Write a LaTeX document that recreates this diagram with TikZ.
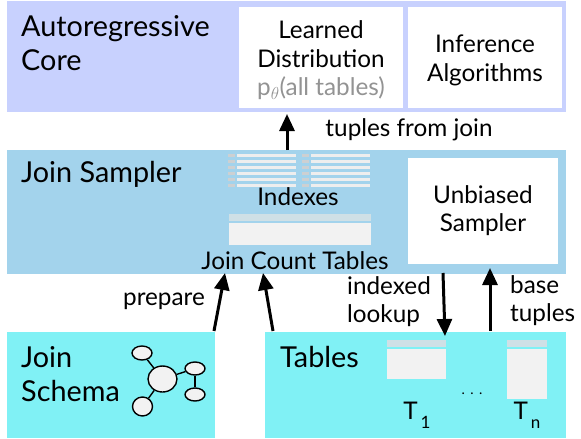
\documentclass[tikz,border=0pt]{standalone}
\usepackage{fontspec}
\setmainfont{Lato}
\usetikzlibrary{arrows.meta,shapes.geometric}
\definecolor{corebg}{RGB}{200,209,254}
\definecolor{joinbg}{RGB}{163,211,236}
\definecolor{cyanbg}{RGB}{128,241,245}
\definecolor{tblhead}{RGB}{207,224,230}
\definecolor{tblbody}{RGB}{242,242,242}
\definecolor{idxgray}{RGB}{205,208,210}
\definecolor{lightline}{RGB}{238,238,238}
\tikzset{
  x=1pt,y=-1pt,
  panel/.style={draw=none,inner sep=0pt,anchor=north west},
  title/.style={font=\fontsize{28.8}{33.5}\selectfont,align=left,anchor=west,inner sep=0pt},
  body/.style={font=\fontsize{24.3}{29}\selectfont,align=center,inner sep=0pt},
  lab/.style={font=\fontsize{24.3}{28}\selectfont,align=left,inner sep=0pt},
  arrow/.style={line width=3pt,-{Triangle[length=17pt,width=15pt]},black},
  gnode/.style={draw=black,line width=1.4pt,fill=tblbody,ellipse,inner sep=0pt},
  gedge/.style={draw=black,line width=1.4pt},
}
\begin{document}
\begin{tikzpicture}
\useasboundingbox (0,0) rectangle (581,439);
% panels
\node[panel,fill=corebg,minimum width=559pt,minimum height=110.5pt] (core) at (7,1) {};
\node[panel,fill=white,minimum width=164pt,minimum height=101pt] (learned) at (239,7) {};
\node[panel,fill=white,minimum width=154pt,minimum height=101pt] (infer) at (408,7) {};
\node[panel,fill=joinbg,minimum width=559pt,minimum height=124pt] (sampler) at (7,150) {};
\node[panel,fill=white,minimum width=150pt,minimum height=106pt] (unb) at (408,158) {};
\node[panel,fill=cyanbg,minimum width=208pt,minimum height=106pt] (schema) at (7,332) {};
\node[panel,fill=cyanbg,minimum width=301pt,minimum height=106pt] (tables) at (265,332) {};
% titles
\node[title] (t1) at (21,43) {Autoregressive\\Core};
\node[title] (t2) at (21,174) {Join Sampler};
\node[title] (t3) at (21,374) {Join\\Schema};
\node[title] (t4) at (280,357) {Tables};
% inner texts
\node[body] (tl) at (321,44) {Learned\\Distribution};
\node[body,text=gray!85] (tp) at (321,88) {p$_{\theta}$(all tables)};
\node[body] (ti) at (485,60) {Inference\\Algorithms};
\node[body,font=\fontsize{24.3}{28}\selectfont] (tu) at (483,211) {Unbiased\\Sampler};
\node[body] (tx) at (298,197) {Indexes};
\node[body] (tc) at (295,261) {Join Count Tables};
% index glyphs
\foreach \y in {154,166,178}{
  \foreach \x in {228,302}{
    \fill[idxgray] (\x,\y) rectangle ++(7,3);
    \fill[idxgray] (\x,\y+6) rectangle ++(7,3);
    \fill[lightline] (\x+9,\y) rectangle ++(59,3);
    \fill[lightline] (\x+9,\y+6) rectangle ++(59,3);
  }
}
% count table
\fill[tblhead] (229,214) rectangle (371,221);
\fill[tblbody] (229,223) rectangle (371,245);
% base tables
\fill[tblhead] (387,340) rectangle (446,347);
\fill[tblbody] (387,349) rectangle (446,379);
\fill[tblhead] (507,340) rectangle (547,347);
\fill[tblbody] (507,349) rectangle (547,399);
\node[body] (t1l) at (417,415) {T\raisebox{-9pt}{\fontsize{17}{17}\selectfont\,1}};
\node[body] (tnl) at (527,415) {T\raisebox{-9pt}{\fontsize{17}{17}\selectfont\,n}};
\node[inner sep=0pt,font=\fontsize{14}{14}\selectfont] (dots) at (472,394) {.\hspace{5.5pt}.\hspace{5.5pt}.};
% schema graph
\node[gnode,minimum width=20pt,minimum height=14pt] (g1) at (142,353) {};
\node[gnode,minimum width=29pt,minimum height=26pt] (g0) at (162.5,379) {};
\node[gnode,minimum width=20pt,minimum height=13pt] (g2) at (195,368.5) {};
\node[gnode,minimum width=20pt,minimum height=13pt] (g3) at (195,394.5) {};
\node[gnode,minimum width=20pt,minimum height=19pt] (g4) at (142.5,406.5) {};
\draw[gedge] (g1) -- (g0);
\draw[gedge] (g0) -- (g2);
\draw[gedge] (g2) -- (g3);
\draw[gedge] (g0) -- (g4);
% connectors
\coordinate (a1s) at (287,150);
\coordinate (a1e) at (287,114);
\draw[arrow] (a1s) -- (a1e);
\coordinate (a2s) at (214,331);
\coordinate (a2e) at (225,273);
\draw[arrow] (a2s) -- (a2e);
\coordinate (a3s) at (273,331);
\coordinate (a3e) at (263,273);
\draw[arrow] (a3s) -- (a3e);
\coordinate (a4s) at (443,273);
\coordinate (a4e) at (445,336);
\draw[arrow] (a4s) -- (a4e);
\coordinate (a5s) at (490,331);
\coordinate (a5e) at (490,268);
\draw[arrow] (a5s) -- (a5e);
% labels
\node[lab,anchor=center] (l1) at (409,130) {tuples from join};
\node[lab,anchor=center] (l2) at (164,301) {prepare};
\node[lab,anchor=west] (l3) at (347,302) {indexed\\lookup};
\node[lab,anchor=west] (l4) at (510,301) {base\\tuples};
\end{tikzpicture}
\end{document}
